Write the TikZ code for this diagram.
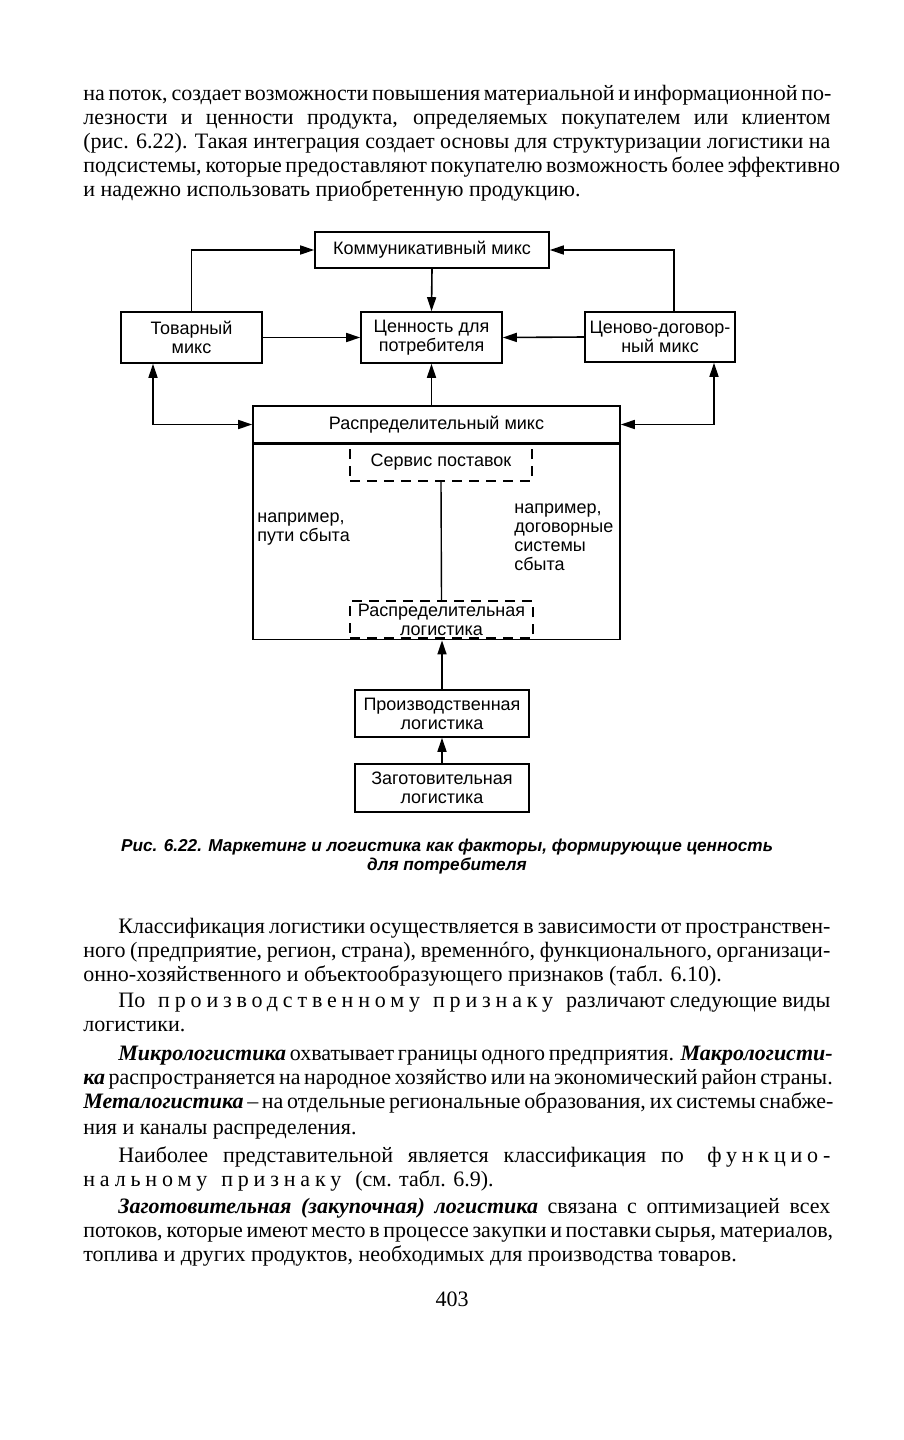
\documentclass[tikz,border=0pt]{standalone}
\usepackage{fontspec}
\setmainfont{Liberation Serif}
\setsansfont{Liberation Sans}
\newfontfamily\sparsefont[LetterSpace=22]{Liberation Serif}
\usetikzlibrary{arrows.meta,positioning}

\newcommand{\bodyfont}{\rmfamily\fontsize{11}{12}\selectfont}
\newcommand{\diagfont}{\sffamily\fontsize{9}{9.5}\selectfont}
\newcommand{\jl}[1]{\makebox[373.5pt][s]{#1}}
\newcommand{\jli}[1]{\makebox[356pt][s]{#1}}
\newcommand{\bitext}[1]{\textbf{\textit{#1}}}
\newcommand{\sparse}[1]{{\sparsefont #1}}
\newcommand{\gap}{\hspace{7pt plus 1.4pt minus 2pt}}

\tikzset{
  box/.style={draw,line width=0.8pt,align=center,font=\diagfont,inner sep=0pt},
  dbox/.style={draw,line width=0.7pt,dash pattern=on 5pt off 3.5pt,align=center,font=\diagfont,inner sep=0pt},
  note/.style={align=left,font=\diagfont,inner sep=0pt,anchor=west},
  arr/.style={line width=0.8pt,-{Triangle[length=7pt,width=4.5pt]}},
  both/.style={line width=0.8pt,{Triangle[length=7pt,width=4.5pt]}-{Triangle[length=7pt,width=4.5pt]}},
  bodyline/.style={anchor=base west,inner sep=0pt,font=\bodyfont},
}

\begin{document}
\begin{tikzpicture}[x=0.5pt,y=-0.5pt]
  \fill[white] (0,0) rectangle (904,1440);
  \useasboundingbox (0,0) rectangle (904,1440);

  % text above the figure
  \node[bodyline] (top1) at (83,100) {\jl{на поток, создает возможности повышения материальной и информационной по-}};
  \node[bodyline] (top2) at (83,124) {\jl{лезности и ценности продукта, определяемых покупателем или клиентом}};
  \node[bodyline] (top3) at (83,148) {\jl{(рис. 6.22). Такая интеграция создает основы для структуризации логистики на}};
  \node[bodyline] (top4) at (83,172) {\jl{подсистемы, которые предоставляют покупателю возможность более эффективно}};
  \node[bodyline] (top5) at (83,196) {и надежно использовать приобретенную продукцию.};

  % boxes
  \node[box,minimum width=117pt,minimum height=18pt] (komm) at (432,250) {Коммуникативный микс};
  \node[box,minimum width=70.5pt,minimum height=25.5pt] (tovar) at (191.5,337.5) {Товарный\\микс};
  \node[box,minimum width=70.5pt,minimum height=25.5pt] (cennost) at (431.5,337.5) {Ценность для\\потребителя};
  \node[box,minimum width=75pt,minimum height=25pt] (cenovo) at (660,337) {Ценово-договор-\\ный микс};
  \node[box,minimum width=183.5pt,minimum height=18.5pt] (raspmix) at (436.5,424.5) {Распределительный микс};
  \node[box,minimum width=183.5pt,minimum height=97.5pt,anchor=north] (raspbody) at (raspmix.south) {};
  \node[dbox,minimum width=91pt,minimum height=19pt] (servis) at (441,462) {Сервис поставок};
  \node[dbox,minimum width=91.5pt,minimum height=18.5pt] (rlog) at (441.5,619.5) {Распределительная\\логистика};
  \node[note] (primer1) at (257,529) {например,\\пути сбыта};
  \node[note] (primer2) at (514,537.5) {например,\\договорные\\системы\\сбыта};
  \node[box,minimum width=87pt,minimum height=23.5pt] (proizv) at (442,713.5) {Производственная\\логистика};
  \node[box,minimum width=87pt,minimum height=24pt] (zagot) at (442,788) {Заготовительная\\логистика};

  % connectors
  \coordinate (lcorner) at (153,425);
  \coordinate (rcorner) at (714,425);
  \draw[arr] (tovar.north) |- (komm.west);
  \draw[arr] ([xshift=7pt]cenovo.north) |- (komm.east);
  \draw[arr] (komm.south) -- (cennost.north);
  \draw[arr] (tovar.east) -- (cennost.west);
  \draw[arr] (cenovo.west) -- (cennost.east);
  \draw[arr] (raspmix.north -| cennost.south) -- (cennost.south);
  \draw[both] (tovar.south -| lcorner) |- (raspmix.west);
  \draw[both] (cenovo.south -| rcorner) |- (raspmix.east);
  \draw[line width=0.7pt] (servis.south) -- (rlog.north);
  \draw[arr] (proizv.north) -- (proizv.north |- raspbody.south);
  \draw[arr] (zagot.north) -- (proizv.south);

  % caption
  \node[font=\sffamily\bfseries\itshape\fontsize{8.6}{9.5}\selectfont,align=center,inner sep=0pt] (caption) at (447,857) {Рис. 6.22. Маркетинг и логистика как факторы, формирующие ценность\\для потребителя};

  % text below the figure
  \node[bodyline] (low1) at (118,933) {\jli{Классификация логистики осуществляется в зависимости от пространствен-}};
  \node[bodyline] (low2) at (83,957) {\jl{ного (предприятие, регион, страна), временн\'oго, функционального, организаци-}};
  \node[bodyline] (low3) at (83,981) {онно-хозяйственного и объектообразующего признаков (табл. 6.10).};
  \node[bodyline] (low4) at (118,1007) {\jli{По\gap\sparse{производственному}\gap\sparse{признаку}\gap различают следующие виды}};
  \node[bodyline] (low5) at (83,1031) {логистики.};
  \node[bodyline] (low6) at (118,1060) {\jli{\bitext{Микрологистика} охватывает границы одного предприятия. \bitext{Макрологисти-}}};
  \node[bodyline] (low7) at (83,1084) {\jl{\bitext{ка} распространяется на народное хозяйство или на экономический район страны.}};
  \node[bodyline] (low8) at (83,1108) {\jl{\bitext{Металогистика} – на отдельные региональные образования, их системы снабже-}};
  \node[bodyline] (low9) at (83,1134) {ния и каналы распределения.};
  \node[bodyline] (low10) at (118,1162) {\jli{Наиболее представительной является классификация по\gap\sparse{функцио-}}};
  \node[bodyline] (low11) at (83,1186) {\sparse{нальному}\gap\sparse{признаку}\gap(см. табл. 6.9).};
  \node[bodyline] (low12) at (118,1213) {\jli{\bitext{Заготовительная (закупочная) логистика} связана с оптимизацией всех}};
  \node[bodyline] (low13) at (83,1237) {\jl{потоков, которые имеют место в процессе закупки и поставки сырья, материалов,}};
  \node[bodyline] (low14) at (83,1261) {топлива и других продуктов, необходимых для производства товаров.};
  \node[font=\bodyfont,inner sep=0pt,anchor=base] (pagenum) at (452,1306) {403};
\end{tikzpicture}
\end{document}
